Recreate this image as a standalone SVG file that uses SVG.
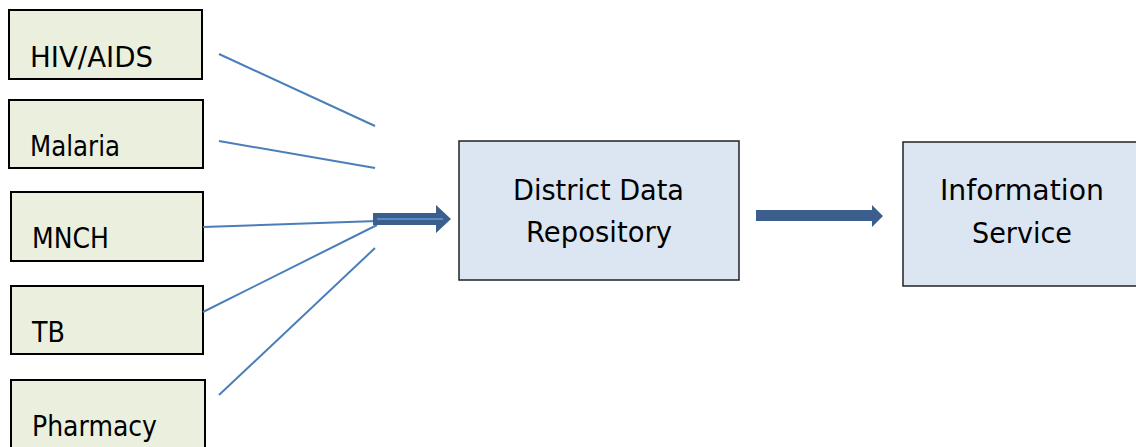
<svg xmlns="http://www.w3.org/2000/svg" width="1136" height="447" viewBox="0 0 1136 447">
<style>
.src{fill:#ebf0de;stroke:#000;stroke-width:2}
.main{fill:#dce6f2;stroke:#222;stroke-width:1.5}
.t{font-family:"DejaVu Sans",Verdana,sans-serif;font-size:29px;fill:#000}
.ln{stroke:#4a7ebb;stroke-width:2;fill:none}
.blk{fill:#3b5e8c}
</style>
<rect width="1136" height="447" fill="#fff"/>
<g id="hiv"><rect class="src" x="9" y="10" width="193" height="69"/><text class="t" x="30" y="67" textLength="123" lengthAdjust="spacingAndGlyphs">HIV/AIDS</text></g>
<g id="malaria"><rect class="src" x="9" y="100" width="194" height="68"/><text class="t" x="30" y="156" textLength="90" lengthAdjust="spacingAndGlyphs">Malaria</text></g>
<g id="mnch"><rect class="src" x="11" y="192" width="192" height="69"/><text class="t" x="32" y="248" textLength="77" lengthAdjust="spacingAndGlyphs">MNCH</text></g>
<g id="tb"><rect class="src" x="11" y="286" width="192" height="68"/><text class="t" x="32" y="342" textLength="33" lengthAdjust="spacingAndGlyphs">TB</text></g>
<g id="pharmacy"><rect class="src" x="11" y="380" width="194" height="80"/><text class="t" x="32" y="436" textLength="125" lengthAdjust="spacingAndGlyphs">Pharmacy</text></g>
<g id="ddr"><rect class="main" x="459" y="141" width="280" height="139"/><text class="t" x="513" y="200" textLength="171" lengthAdjust="spacingAndGlyphs">District Data</text><text class="t" x="526" y="242" textLength="146" lengthAdjust="spacingAndGlyphs">Repository</text></g>
<g id="info"><rect class="main" x="903" y="142" width="240" height="144"/><text class="t" x="940" y="200" textLength="164" lengthAdjust="spacingAndGlyphs">Information</text><text class="t" x="972" y="243" textLength="100" lengthAdjust="spacingAndGlyphs">Service</text></g>
<g id="connectors">
<line class="ln" x1="219" y1="54" x2="375" y2="126"/>
<line class="ln" x1="219" y1="141" x2="375" y2="168"/>
<line class="ln" x1="203" y1="227" x2="377" y2="221"/>
<line class="ln" x1="203" y1="312" x2="377" y2="225"/>
<line class="ln" x1="219" y1="395" x2="375" y2="248"/>
<polygon class="blk" points="373,213 436,213 436,205 451,219 436,233 436,225 373,225"/>
<line x1="377" y1="219" x2="443" y2="219" stroke="#5b8bc6" stroke-width="2"/>
<polygon class="blk" points="756,210 872,210 872,205 883,216 872,227 872,221 756,221"/>
</g>
</svg>
